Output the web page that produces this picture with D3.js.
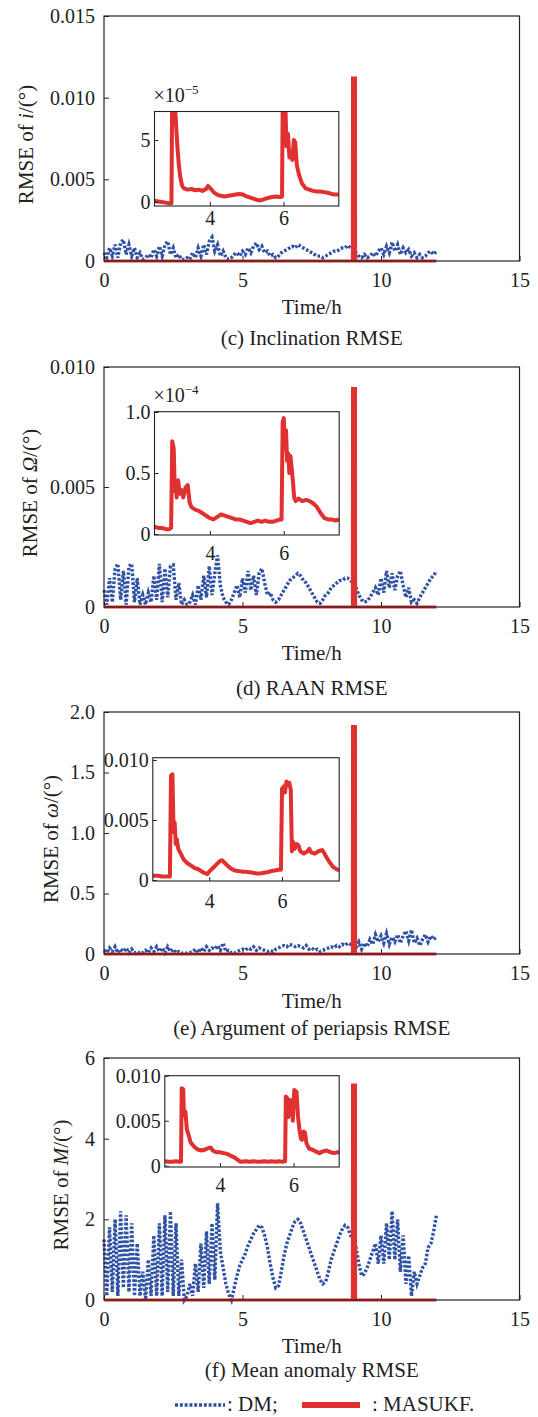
<!DOCTYPE html>
<html>
<head>
<meta charset="utf-8">
<script src="https://cdn.jsdelivr.net/npm/d3@7"></script>
<style>
  body { margin: 0; background: #fff; }
  svg text { font-family: "Liberation Serif", "Times New Roman", serif; fill: #222; }
</style>
</head>
<body>
<div id="chart"></div>
<script>
// ---- data ----
const xTicks = [0, 5, 10, 15];
const insetXTicks = [4, 6];

// DM series, sampled every 0.1 h
const dmTime = [
  0, 0.1, 0.2, 0.3, 0.4, 0.5, 0.6, 0.7, 0.8, 0.9,
  1, 1.1, 1.2, 1.3, 1.4, 1.5, 1.6, 1.7, 1.8, 1.9,
  2, 2.1, 2.2, 2.3, 2.4, 2.5, 2.6, 2.7, 2.8, 2.9,
  3, 3.1, 3.2, 3.3, 3.4, 3.5, 3.6, 3.7, 3.8, 3.9,
  4, 4.1, 4.2, 4.3, 4.4, 4.5, 4.6, 4.7, 4.8, 4.9,
  5, 5.1, 5.2, 5.3, 5.4, 5.5, 5.6, 5.7, 5.8, 5.9,
  6, 6.1, 6.2, 6.3, 6.4, 6.5, 6.6, 6.7, 6.8, 6.9,
  7, 7.1, 7.2, 7.3, 7.4, 7.5, 7.6, 7.7, 7.8, 7.9,
  8, 8.1, 8.2, 8.3, 8.4, 8.5, 8.6, 8.7, 8.8, 8.9,
  9, 9.1, 9.2, 9.3, 9.4, 9.5, 9.6, 9.7, 9.8, 9.9,
  10, 10.1, 10.2, 10.3, 10.4, 10.5, 10.6, 10.7, 10.8, 10.9,
  11, 11.1, 11.2, 11.3, 11.4, 11.5, 11.6, 11.7, 11.8, 11.9,
  12
];

const dmInc = [
  0.0005, 0.0002, 0.0008, 0.0003, 0.0010, 0.0002, 0.0011, 0.0013, 0.0004, 0.0010,
  0.0003, 0.0008, 0.0002, 0.0005, 0.0001, 0.0002, 0.0004, 0.0002, 0.0007, 0.0003,
  0.0009, 0.0003, 0.0010, 0.0012, 0.0004, 0.0008, 0.0002, 0.0004, 0.0001, 0.0001,
  0.0002, 0.0001, 0.0005, 0.0002, 0.0008, 0.0003, 0.0010, 0.0004, 0.0012, 0.00145,
  0.0006, 0.0010, 0.0003, 0.0006, 0.0002, 0.0001, 0.0002, 0.0004, 0.0005, 0.0003,
  0.0006, 0.0004, 0.0008, 0.0005, 0.0009, 0.0011, 0.0007, 0.0009, 0.0005, 0.0006,
  0.0003, 0.0004, 0.0002, 0.0003, 0.0005, 0.0006, 0.0007, 0.0008, 0.0009, 0.0008,
  0.0010, 0.0009, 0.0008, 0.0007, 0.0006, 0.0005, 0.0004, 0.0003, 0.0003, 0.0002,
  0.0003, 0.0004, 0.0005, 0.0006, 0.0006, 0.0007, 0.0008, 0.0008, 0.00095, 0.0008,
  0.0007, 0.0005, 0.0003, 0.0002, 0.0004, 0.0002, 0.0003, 0.0005, 0.0003, 0.0006,
  0.0008, 0.0004, 0.0009, 0.0005, 0.00115, 0.0006, 0.0010, 0.0004, 0.0008, 0.0005,
  0.0007, 0.0003, 0.0005, 0.0002, 0.0004, 0.0002, 0.0003, 0.0005, 0.0006, 0.0004,
  0.0006
];

const dmRaan = [
  0.0007, 0.0001, 0.0012, 0.0002, 0.0016, 0.0018, 0.0003, 0.0015, 0.0001, 0.0017,
  0.0018, 0.0002, 0.0012, 0.0001, 0.0005, 0.0001, 0.0006, 0.0002, 0.0013, 0.0003,
  0.0018, 0.0002, 0.0016, 0.0004, 0.0017, 0.00175, 0.0003, 0.0010, 0.0001, 0.0003,
  0.0001, 0.0002, 0.0005, 0.0001, 0.0009, 0.0003, 0.0013, 0.0004, 0.0017, 0.0005,
  0.0014, 0.00215, 0.0009, 0.0004, 0.0002, 0.0001, 0.0003, 0.0006, 0.0009, 0.0004,
  0.0012, 0.0006, 0.0015, 0.0007, 0.0013, 0.0005, 0.0014, 0.0016, 0.0010, 0.0005,
  0.0006, 0.0003, 0.0002, 0.0003, 0.0005, 0.0007, 0.0009, 0.0011, 0.0012, 0.0013,
  0.0014, 0.0013, 0.0011, 0.0010, 0.0008, 0.0006, 0.0004, 0.0002, 0.00015, 0.0003,
  0.0005, 0.0006, 0.0008, 0.0009, 0.0010, 0.0011, 0.0011, 0.0012, 0.0012, 0.0011,
  0.0010, 0.0008, 0.0005, 0.0003, 0.0002, 0.00025, 0.0004, 0.0006, 0.0008, 0.0005,
  0.0012, 0.0006, 0.0015, 0.0008, 0.0014, 0.0007, 0.0013, 0.0015, 0.0009, 0.0004,
  0.0008, 0.0002, 0.0003, 0.00015, 0.0004, 0.0006, 0.0008, 0.0010, 0.0012, 0.0013,
  0.0015
];

const dmArg = [
  0.03, 0.01, 0.05, 0.02, 0.06, 0.01, 0.04, 0.02, 0.05, 0.01,
  0.04, 0.01, 0.02, 0.005, 0.01, 0.03, 0.01, 0.05, 0.02, 0.06,
  0.02, 0.05, 0.01, 0.06, 0.02, 0.04, 0.01, 0.02, 0.005, 0.01,
  0.005, 0.01, 0.02, 0.04, 0.01, 0.05, 0.02, 0.06, 0.03, 0.05,
  0.04, 0.07, 0.03, 0.09, 0.02, 0.03, 0.01, 0.005, 0.02, 0.03,
  0.04, 0.03, 0.05, 0.04, 0.06, 0.03, 0.05, 0.04, 0.03, 0.02,
  0.03, 0.02, 0.04, 0.05, 0.06, 0.07, 0.06, 0.08, 0.07, 0.06,
  0.07, 0.06, 0.05, 0.07, 0.04, 0.05, 0.03, 0.04, 0.02, 0.03,
  0.04, 0.05, 0.06, 0.05, 0.07, 0.06, 0.08, 0.07, 0.09, 0.08,
  0.08, 0.05, 0.10, 0.04, 0.09, 0.06, 0.12, 0.08, 0.16, 0.10,
  0.15, 0.09, 0.17, 0.08, 0.14, 0.10, 0.16, 0.09, 0.15, 0.19,
  0.11, 0.20, 0.09, 0.13, 0.07, 0.12, 0.16, 0.10, 0.15, 0.12,
  0.14
];

const dmMean = [
  1.5, 0.1, 1.8, 0.2, 2.0, 0.1, 2.2, 0.3, 2.1, 0.2,
  1.9, 0.1, 1.4, 0.1, 0.7, 0.0, 1.0, 0.1, 1.6, 0.1,
  1.9, 0.1, 2.1, 0.2, 2.2, 0.1, 1.9, 0.1, 1.0, 0.0,
  0.1, 0.4, 0.1, 0.9, 0.2, 1.4, 0.3, 1.7, 0.4, 1.9,
  0.5, 2.4, 1.2, 0.8, 0.4, 0.15, 0.0, 0.3, 0.6, 0.85,
  1.0, 1.15, 1.35, 1.5, 1.65, 1.75, 1.85, 1.8, 1.6, 1.3,
  0.9, 0.55, 0.3, 0.35, 0.7, 1.1, 1.4, 1.6, 1.8, 1.95,
  2.0, 1.9, 1.7, 1.5, 1.3, 1.1, 0.9, 0.7, 0.5, 0.4,
  0.45, 0.7, 1.0, 1.2, 1.4, 1.6, 1.75, 1.85, 1.8, 1.6,
  1.5, 1.3, 0.9, 0.6, 0.65, 0.8, 1.0, 1.2, 1.4, 0.9,
  1.6, 0.9, 1.9, 1.0, 2.2, 1.0, 2.0, 0.7, 1.6, 0.4,
  1.1, 0.1, 0.7, 0.4, 0.6, 0.8, 0.9, 1.3, 1.4, 1.7,
  2.1
];

// MASUKF on the main axes: flat at zero with a spike at 9 h
const spikeTime = [0, 8.97, 8.975, 9.075, 9.08, 12];
const spikeInc = [0, 0, 0.0112, 0.0112, 0, 0];
const spikeRaan = [0, 0, 0.0091, 0.0091, 0, 0];
const spikeArg = [0, 0, 1.88, 1.88, 0, 0];
const spikeMean = [0, 0, 5.33, 5.33, 0, 0];

// MASUKF in the zoomed insets, [time, value]
const zoomInc = [ // x1e-5
  [2.5, 0.1], [2.6, 0.05], [2.7, 0.0], [2.8, -0.05], [2.9, -0.1], [2.96, -0.1], [2.98, 9], [3.04, 9],
  [3.08, 6.5], [3.12, 4.5], [3.16, 3.0], [3.2, 2.0], [3.25, 1.3], [3.3, 1.1], [3.4, 1.0], [3.5, 1.05],
  [3.6, 0.95], [3.7, 1.0], [3.8, 0.9], [3.9, 1.05], [3.95, 1.3], [4.0, 1.15], [4.05, 1.0], [4.1, 0.8],
  [4.2, 0.6], [4.3, 0.5], [4.4, 0.45], [4.5, 0.5], [4.6, 0.55], [4.7, 0.6], [4.8, 0.65], [4.9, 0.6],
  [5.0, 0.45], [5.1, 0.35], [5.2, 0.25], [5.3, 0.15], [5.4, 0.15], [5.5, 0.25], [5.6, 0.35], [5.7, 0.4],
  [5.8, 0.45], [5.9, 0.4], [5.96, 0.45], [5.98, 9], [6.04, 9], [6.08, 4.5], [6.12, 5.5], [6.16, 3.6],
  [6.2, 4.0], [6.24, 3.4], [6.28, 5.0], [6.32, 4.8], [6.36, 3.0], [6.42, 2.2], [6.5, 1.5], [6.6, 1.1],
  [6.7, 1.0], [6.8, 0.9], [6.9, 0.85], [7.0, 0.85], [7.1, 0.8], [7.2, 0.75], [7.3, 0.65], [7.4, 0.6], [7.5, 0.6]
];
const zoomRaan = [ // x1e-4
  [2.5, 0.06], [2.6, 0.05], [2.7, 0.05], [2.8, 0.04], [2.9, 0.04], [2.95, 0.05], [2.98, 0.76], [3.02, 0.7],
  [3.05, 0.35], [3.08, 0.42], [3.1, 0.3], [3.14, 0.44], [3.18, 0.33], [3.23, 0.36], [3.28, 0.3], [3.34, 0.38],
  [3.4, 0.4], [3.45, 0.26], [3.5, 0.22], [3.6, 0.2], [3.7, 0.19], [3.8, 0.17], [3.9, 0.15], [4.0, 0.13],
  [4.1, 0.12], [4.2, 0.14], [4.3, 0.16], [4.4, 0.15], [4.5, 0.14], [4.6, 0.13], [4.7, 0.12], [4.8, 0.12],
  [4.9, 0.11], [5.0, 0.10], [5.1, 0.09], [5.2, 0.10], [5.3, 0.11], [5.4, 0.10], [5.5, 0.11], [5.6, 0.10],
  [5.7, 0.10], [5.8, 0.11], [5.9, 0.12], [5.94, 0.12], [5.97, 0.92], [6.0, 0.95], [6.03, 0.7], [6.06, 0.85],
  [6.09, 0.6], [6.12, 0.66], [6.15, 0.5], [6.18, 0.64], [6.21, 0.55], [6.25, 0.42], [6.28, 0.3], [6.32, 0.27],
  [6.4, 0.29], [6.5, 0.27], [6.6, 0.28], [6.7, 0.27], [6.8, 0.25], [6.9, 0.22], [7.0, 0.17], [7.1, 0.13],
  [7.2, 0.12], [7.3, 0.12], [7.4, 0.11], [7.5, 0.12]
];
const zoomArg = [
  [2.45, 0.00035], [2.6, 0.00035], [2.7, 0.0003], [2.8, 0.0003], [2.9, 0.0003], [2.92, 0.0003], [2.95, 0.0087], [2.99, 0.0088],
  [3.02, 0.0040], [3.05, 0.0048], [3.08, 0.0030], [3.11, 0.0034], [3.15, 0.0026], [3.2, 0.0023], [3.3, 0.0017], [3.4, 0.0014],
  [3.5, 0.0012], [3.6, 0.0010], [3.7, 0.0009], [3.8, 0.0007], [3.9, 0.00055], [3.95, 0.0005], [4.0, 0.0007], [4.1, 0.0010],
  [4.2, 0.0013], [4.3, 0.0016], [4.35, 0.00165], [4.4, 0.0015], [4.5, 0.0012], [4.6, 0.00095], [4.7, 0.0008], [4.8, 0.00075],
  [4.9, 0.0007], [5.0, 0.0007], [5.1, 0.00065], [5.2, 0.0006], [5.3, 0.00055], [5.4, 0.00055], [5.5, 0.0006], [5.6, 0.00065],
  [5.7, 0.00075], [5.8, 0.0008], [5.9, 0.00085], [5.97, 0.00085], [6.0, 0.0076], [6.05, 0.0078], [6.08, 0.0073], [6.12, 0.0082],
  [6.16, 0.0079], [6.2, 0.0081], [6.24, 0.0075], [6.27, 0.0024], [6.3, 0.0032], [6.35, 0.0026], [6.4, 0.0030], [6.45, 0.0029],
  [6.5, 0.0024], [6.6, 0.0022], [6.7, 0.0024], [6.75, 0.0026], [6.8, 0.0023], [6.9, 0.0022], [7.0, 0.0024], [7.1, 0.0025],
  [7.15, 0.0023], [7.2, 0.0020], [7.3, 0.0015], [7.4, 0.0011], [7.5, 0.0009], [7.57, 0.0008]
];
const zoomMean = [
  [2.5, 0.0005], [2.6, 0.00045], [2.7, 0.00045], [2.8, 0.0005], [2.9, 0.00045], [2.94, 0.00045], [2.96, 0.0086], [3.0, 0.0085],
  [3.02, 0.0056], [3.06, 0.0060], [3.1, 0.0040], [3.15, 0.0034], [3.2, 0.0026], [3.3, 0.0021], [3.4, 0.0018], [3.5, 0.0017],
  [3.6, 0.0018], [3.7, 0.0020], [3.75, 0.0020], [3.8, 0.0017], [3.9, 0.0015], [4.0, 0.0015], [4.1, 0.0014], [4.2, 0.0013],
  [4.3, 0.0011], [4.4, 0.0009], [4.5, 0.0006], [4.56, 0.00045], [4.7, 0.0005], [4.8, 0.00045], [4.9, 0.0005], [5.0, 0.00045],
  [5.1, 0.00045], [5.2, 0.0005], [5.3, 0.00045], [5.4, 0.0005], [5.5, 0.00045], [5.6, 0.0005], [5.7, 0.00045], [5.77, 0.0005],
  [5.79, 0.0077], [5.83, 0.0075], [5.86, 0.0054], [5.9, 0.0073], [5.95, 0.0072], [5.98, 0.0050], [6.02, 0.0084], [6.08, 0.0082],
  [6.12, 0.0055], [6.16, 0.0040], [6.2, 0.0030], [6.23, 0.0029], [6.27, 0.0038], [6.31, 0.0037], [6.35, 0.0025], [6.42, 0.0019],
  [6.5, 0.0018], [6.6, 0.0016], [6.7, 0.0014], [6.8, 0.0016], [6.9, 0.0017], [7.0, 0.0015], [7.1, 0.0014], [7.2, 0.0015], [7.24, 0.0015]
];

const yTicksInc = [0, 0.005, 0.010, 0.015];
const yTicksRaan = [0, 0.005, 0.010];
const yTicksArg = [0, 0.5, 1.0, 1.5, 2.0];
const yTicksMean = [0, 2, 4, 6];
const zTicksInc = [0, 5];
const zTicksRaan = [0, 0.5, 1.0];
const zTicksArg = [0, 0.005, 0.010];
const zTicksMean = [0, 0.005, 0.010];

const symbols = ["i", "Ω", "ω", "M"];
const captions = ["(c) Inclination RMSE", "(d) RAAN RMSE", "(e) Argument of periapsis RMSE", "(f) Mean anomaly RMSE"];

// ---- layout ----
const W = 538, H = 1417;
const xLeft = 104, xRight = 519.5;
const blue = "#2f52a5", red = "#e0302f";
const fmt0 = f => d => d === 0 ? "0" : d3.format(f)(d);

const panels = [
  { dm: dmInc, spike: spikeInc, zoom: zoomInc, yTicks: yTicksInc, zTicks: zTicksInc,
    top: 16, bottom: 261, yMax: 0.015, yFmt: fmt0(".3f"), zFmt: fmt0("d"),
    labelX: 26, timeY: 314, capY: 345, exp: "−5",
    box: { l: 154.5, r: 338.8, t: 111.5, b: 206, x0: 2.5, x1: 7.5, y0: -0.32, y1: 7.3, xLab: 225, expY: 102 } },
  { dm: dmRaan, spike: spikeRaan, zoom: zoomRaan, yTicks: yTicksRaan, zTicks: zTicksRaan,
    top: 367, bottom: 607, yMax: 0.010, yFmt: fmt0(".3f"), zFmt: fmt0(".1f"),
    labelX: 30, timeY: 660, capY: 695, exp: "−4",
    box: { l: 154.5, r: 339.2, t: 411.7, b: 535, x0: 2.5, x1: 7.5, y0: -0.008, y1: 1.0025, xLab: 560, expY: 402 } },
  { dm: dmArg, spike: spikeArg, zoom: zoomArg, yTicks: yTicksArg, zTicks: zTicksArg,
    top: 712, bottom: 954, yMax: 2.0, yFmt: fmt0(".1f"), zFmt: fmt0(".3f"),
    labelX: 50.5, timeY: 1008, capY: 1035, exp: null,
    box: { l: 152.8, r: 339.2, t: 757.7, b: 881, x0: 2.45, x1: 7.57, y0: -0.00008, y1: 0.01019, xLab: 908 } },
  { dm: dmMean, spike: spikeMean, zoom: zoomMean, yTicks: yTicksMean, zTicks: zTicksMean,
    top: 1058, bottom: 1300, yMax: 6, yFmt: fmt0("d"), zFmt: fmt0(".3f"),
    labelX: 61, timeY: 1353, capY: 1377, exp: null,
    box: { l: 164.8, r: 339.2, t: 1075.7, b: 1167, x0: 2.5, x1: 7.24, y0: -0.00014, y1: 0.0100, xLab: 1192 } }
];

const svg = d3.select("#chart")
    .append("svg")
    .attr("width", W)
    .attr("height", H);

const styleAxis = a => {
    a.attr("font-size", 20).attr("font-family", null);
    a.select(".domain").remove();
    a.selectAll(".tick line").attr("stroke", "#222");
    a.selectAll(".tick text").attr("fill", "#222");
};

panels.forEach((p, i) => {
    const g = svg.append("g");
    const x = d3.scaleLinear().domain([0, 15]).range([xLeft, xRight]);
    const y = d3.scaleLinear().domain([0, p.yMax]).range([p.bottom, p.top]);

    // main axes, ticks pointing inward
    g.append("g")
        .attr("transform", `translate(0,${p.bottom})`)
        .call(d3.axisBottom(x).tickValues(xTicks).tickSize(-5).tickPadding(11.3).tickFormat(d3.format("d")))
        .call(styleAxis);

    g.append("g")
        .attr("transform", `translate(${xLeft},0)`)
        .call(d3.axisLeft(y).tickValues(p.yTicks).tickSize(-5).tickPadding(9).tickFormat(p.yFmt))
        .call(styleAxis);

    // DM (dotted blue)
    const dmLine = d3.line()
        .x((d, j) => x(dmTime[j]))
        .y(d => y(d));
    g.append("path")
        .datum(p.dm)
        .attr("d", dmLine)
        .attr("fill", "none")
        .attr("stroke", blue)
        .attr("stroke-width", 3.4)
        .attr("stroke-dasharray", "2.6,1.8");

    // MASUKF main
    const spLine = d3.line()
        .x((d, j) => x(spikeTime[j]))
        .y(d => y(d));
    g.append("path")
        .datum(p.spike)
        .attr("d", spLine)
        .attr("fill", "none")
        .attr("stroke", red)
        .attr("stroke-width", 3.2);

    g.append("rect")
        .attr("x", xLeft).attr("y", p.top)
        .attr("width", xRight - xLeft).attr("height", p.bottom - p.top)
        .attr("fill", "none")
        .attr("stroke", "#222")
        .attr("stroke-width", 1.2);

    // axis titles
    const lab = g.append("text")
        .attr("transform", `translate(${p.labelX},${(p.top + p.bottom) / 2 + 6}) rotate(-90)`)
        .attr("text-anchor", "middle")
        .attr("dominant-baseline", "central")
        .attr("font-size", 21);
    lab.append("tspan").text("RMSE of ");
    lab.append("tspan").attr("font-style", "italic").text(symbols[i]);
    lab.append("tspan").text("/(°)");

    g.append("text")
        .attr("x", (xLeft + xRight) / 2)
        .attr("y", p.timeY)
        .attr("text-anchor", "middle")
        .attr("font-size", 21)
        .text("Time/h");

    g.append("text")
        .attr("x", (xLeft + xRight) / 2)
        .attr("y", p.capY)
        .attr("text-anchor", "middle")
        .attr("font-size", 21)
        .text(captions[i]);

    // inset
    const b = p.box;
    const ix = d3.scaleLinear().domain([b.x0, b.x1]).range([b.l, b.r]);
    const iy = d3.scaleLinear().domain([b.y0, b.y1]).range([b.b, b.t]);

    svg.append("clipPath").attr("id", `clip${i}`)
        .append("rect")
        .attr("x", b.l).attr("y", b.t)
        .attr("width", b.r - b.l).attr("height", b.b - b.t);

    g.append("rect")
        .attr("x", b.l).attr("y", b.t)
        .attr("width", b.r - b.l).attr("height", b.b - b.t)
        .attr("fill", "#fff");

    g.append("path")
        .datum(p.zoom)
        .attr("clip-path", `url(#clip${i})`)
        .attr("d", d3.line().x(d => ix(d[0])).y(d => iy(d[1])))
        .attr("fill", "none")
        .attr("stroke", red)
        .attr("stroke-width", 4)
        .attr("stroke-linejoin", "round");

    g.append("g")
        .attr("transform", `translate(0,${b.b})`)
        .call(d3.axisBottom(ix).tickValues(insetXTicks).tickSize(-4).tickPadding(b.xLab - b.b - 14.2).tickFormat(d3.format("d")))
        .call(styleAxis);

    g.append("g")
        .attr("transform", `translate(${b.l},0)`)
        .call(d3.axisLeft(iy).tickValues(p.zTicks).tickSize(-4).tickPadding(4).tickFormat(p.zFmt))
        .call(styleAxis);

    g.append("rect")
        .attr("x", b.l).attr("y", b.t)
        .attr("width", b.r - b.l).attr("height", b.b - b.t)
        .attr("fill", "none")
        .attr("stroke", "#222")
        .attr("stroke-width", 1.1);

    if (p.exp) {
        const e = g.append("text")
            .attr("x", b.l - 1)
            .attr("y", b.expY)
            .attr("font-size", 20);
        e.append("tspan").text("×10");
        e.append("tspan").attr("font-size", 13).attr("dy", -8).text(p.exp);
    }
});

// legend
const leg = svg.append("g");
leg.append("line")
    .attr("x1", 175).attr("x2", 225).attr("y1", 1405).attr("y2", 1405)
    .attr("stroke", blue).attr("stroke-width", 3.5).attr("stroke-dasharray", "3,1.8");
leg.append("text").attr("x", 227).attr("y", 1411).attr("font-size", 21).text(": DM;");
leg.append("line")
    .attr("x1", 302).attr("x2", 360).attr("y1", 1405).attr("y2", 1405)
    .attr("stroke", red).attr("stroke-width", 6);
leg.append("text").attr("x", 372).attr("y", 1411).attr("font-size", 21).text(": MASUKF.");
</script>
</body>
</html>
